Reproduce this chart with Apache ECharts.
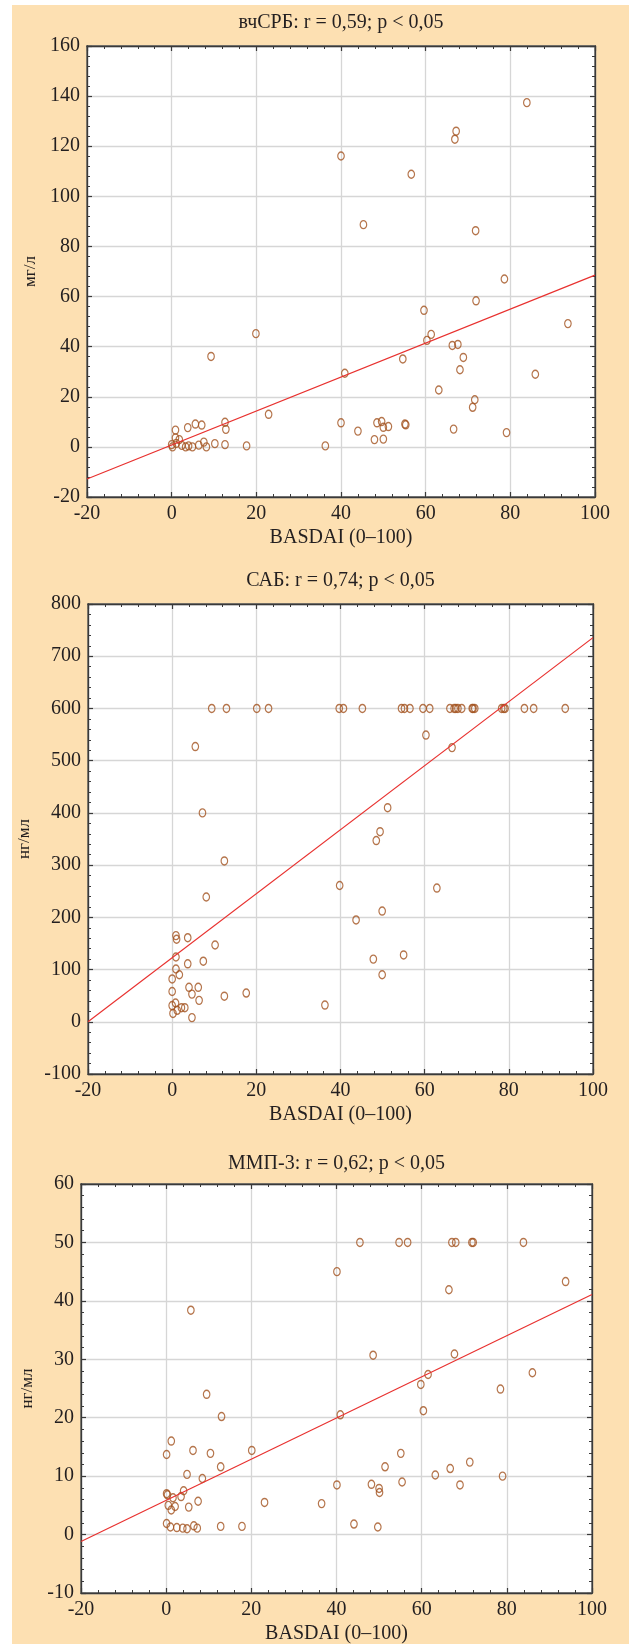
<!DOCTYPE html>
<html>
<head>
<meta charset="utf-8">
<script src="https://cdn.jsdelivr.net/npm/echarts@6/dist/echarts.min.js"></script>
<style>
html,body{margin:0;padding:0;background:#fff;}
#c{width:629px;height:1644px;}
</style>
</head>
<body>
<div id="c"></div>
<script>
// ---- DATA ----
const xAxisName = 'BASDAI (0–100)';
const titles = ['вчСРБ: r = 0,59; p < 0,05', 'САБ: r = 0,74; p < 0,05', 'ММП-3: r = 0,62; p < 0,05'];
const yNames = ['мг/л', 'нг/мл', 'нг/мл'];
const xRange = [-20, 100, 20];
const yRanges = [[-20, 160, 20], [-100, 800, 100], [-10, 60, 10]];
// regression lines: [intercept, slope]
const fits = [[0.77, 0.678], [122.6, 6.13], [5.85, 0.3525]];

const crpX = [83.9, 67.2, 66.9, 40.0, 56.6, 45.3, 71.8, 78.6, 71.9, 59.6, 93.6, 19.9, 61.3, 60.3, 66.3, 67.6, 9.3, 68.9, 54.6, 68.1, 40.9, 85.9, 63.1, 71.6, 71.1, 22.9, 40.0, 48.5, 49.6, 50.0, 51.2, 55.1, 55.3, 44.0, 47.9, 50.0, 66.6, 79.1, 36.3, 17.7, 12.6, 12.6, 12.8, 10.2, 7.1, 5.6, 3.8, 0.9, 1.8, 0.9, 0.0, 0.2, 2.4, 3.3, 4.0, 4.9, 6.4, 7.6, 8.2, 1.1];
const crpY = [137.4, 126.0, 122.8, 116.1, 108.8, 88.7, 86.3, 67.0, 58.3, 54.5, 49.2, 45.2, 44.9, 42.5, 40.5, 40.9, 36.1, 35.7, 35.1, 30.8, 29.4, 29.0, 22.7, 18.8, 15.8, 13.0, 9.6, 9.6, 10.1, 7.8, 8.1, 9.1, 8.8, 6.3, 2.9, 3.1, 7.1, 5.7, 0.4, 0.4, 0.9, 9.8, 7.0, 1.3, 8.7, 9.1, 7.7, 6.7, 2.9, 3.6, 0.9, 0.0, 0.6, 0.0, 0.4, 0.0, 0.7, 1.9, 0.0, 1.4];

const saaX = [9.4, 12.9, 20.1, 22.9, 39.7, 40.7, 45.2, 54.5, 55.2, 56.5, 59.6, 61.2, 66.0, 67.0, 67.4, 67.9, 68.8, 71.3, 71.5, 71.9, 78.3, 78.8, 79.1, 83.7, 85.9, 93.4,
  60.3, 66.5, 5.5, 7.2, 51.2, 49.4, 48.5, 12.4, 39.8, 62.9, 8.1, 49.9, 43.7, 10.2, 0.9, 1.05, 3.7, 55.0, 47.8, 0.9, 7.4, 3.7, 0.9, 1.7, 49.9, 0.0, 0.0, 4.0, 6.2, 4.7, 6.4, 12.4, 17.6, 36.3, 0.8, 0.0, 0.2, 2.2, 3.0, 1.2, 4.7];
const saaY = [600, 600, 600, 600, 600, 600, 600, 600, 600, 600, 600, 600, 600, 600, 600, 600, 600, 600, 600, 600, 600, 600, 600, 600, 600, 600,
  549, 525, 527, 400, 410, 364, 347, 308, 261, 256, 239, 212, 195, 147, 165, 158, 161, 128, 120, 124, 116, 111, 101, 90, 90, 82, 58, 66, 66, 53, 41, 49, 55, 32, 36, 31, 16, 27, 27, 22, 8];

const mmpX = [45.5, 54.7, 56.7, 67.1, 68.0, 71.8, 72.1, 83.9, 40.1, 93.8, 66.4, 5.8, 48.6, 67.7, 61.5, 86.0, 59.8, 78.5, 9.5, 60.4, 40.9, 13.0, 1.2, 0.1, 6.3, 10.4, 20.1, 55.1, 12.8, 51.4, 71.3, 66.7, 4.9, 63.2, 79.0, 8.5, 55.4, 40.1, 48.2, 69.0, 50.0, 50.1, 0.1, 0.3, 4.1, 3.5, 1.6, 7.5, 23.1, 36.5, 0.5, 2.1, 5.3, 1.2, 0.1, 1.0, 2.5, 3.9, 4.9, 6.5, 7.3, 12.8, 17.8, 44.1, 49.7];
const mmpY = [50, 50, 50, 50, 50, 50, 50, 50, 45.0, 43.3, 41.9, 38.4, 30.7, 30.9, 27.4, 27.7, 25.7, 24.9, 24.0, 21.2, 20.5, 20.2, 16.0, 13.7, 14.4, 13.9, 14.4, 13.9, 11.6, 11.6, 12.4, 11.3, 10.3, 10.2, 10.0, 9.6, 9.0, 8.5, 8.6, 8.5, 7.9, 7.2, 7.0, 6.8, 7.5, 6.5, 6.3, 5.7, 5.5, 5.3, 5.0, 4.8, 4.7, 4.2, 1.9, 1.3, 1.2, 1.1, 1.0, 1.5, 1.1, 1.4, 1.4, 1.8, 1.3];

const seriesX = [crpX, saaX, mmpX];
const seriesY = [crpY, saaY, mmpY];

// ---- LAYOUT ----
const grids = [
  {left: 87, top: 46, width: 508, height: 451},
  {left: 88, top: 604, width: 505, height: 470},
  {left: 81, top: 1184, width: 511, height: 409}
];
const titleY = [23, 581, 1164];
const yNameGap = [44, 45, 38];
const FONT = '"Liberation Serif", "DejaVu Serif", serif';
const TXT = '#231f20';
const AXC = '#3a3a3a';

const chart = echarts.init(document.getElementById('c'), null, {renderer: 'canvas'});
const option = {
  animation: false,
  backgroundColor: '#ffffff',
  grid: [], xAxis: [], yAxis: [], series: [],
  graphic: [{type: 'rect', shape: {x: 12, y: 5, width: 617, height: 1639}, style: {fill: '#fde0b2'}, z: -10}]
};

function tickCfg() {
  return {
    axisLine: {show: true, onZero: false, lineStyle: {color: AXC, width: 1.3}},
    axisTick: {show: true, inside: true, length: 5, lineStyle: {color: AXC, width: 1.2}},
    minorTick: {show: true, splitNumber: 5, length: 3, lineStyle: {color: AXC, width: 1}}
  };
}

grids.forEach((g, i) => {
  option.grid.push(Object.assign({containLabel: false, outerBoundsMode: 'none', show: true, backgroundColor: '#ffffff', borderColor: AXC, borderWidth: 1.3}, g));
  const base = Object.assign({type: 'value', gridIndex: i, min: xRange[0], max: xRange[1], interval: xRange[2]}, tickCfg());
  option.xAxis.push(Object.assign({}, base, {
    position: 'bottom',
    name: xAxisName, nameLocation: 'middle', nameGap: 31,
    nameTextStyle: {fontFamily: FONT, fontSize: 20, color: TXT},
    axisLabel: {fontFamily: FONT, fontSize: 20, color: TXT, margin: 7},
    splitLine: {show: true, lineStyle: {color: '#d6d6d6', width: 1.3}}
  }));
  option.xAxis.push(Object.assign({}, base, {
    position: 'top', axisLabel: {show: false}, splitLine: {show: false}
  }));
  const yr = yRanges[i];
  const ybase = Object.assign({type: 'value', gridIndex: i, min: yr[0], max: yr[1], interval: yr[2]}, tickCfg());
  option.yAxis.push(Object.assign({}, ybase, {
    position: 'left',
    name: yNames[i], nameLocation: 'middle', nameGap: yNameGap[i], nameRotate: 90,
    nameTextStyle: {fontFamily: FONT, fontSize: 17, color: TXT},
    axisLabel: {fontFamily: FONT, fontSize: 20, color: TXT, margin: 7},
    splitLine: {show: true, lineStyle: {color: '#d6d6d6', width: 1.3}}
  }));
  option.yAxis.push(Object.assign({}, ybase, {
    position: 'right', axisLabel: {show: false}, splitLine: {show: false}
  }));
  const xs = seriesX[i], ys = seriesY[i];
  option.series.push({
    type: 'scatter', xAxisIndex: 2 * i, yAxisIndex: 2 * i,
    data: xs.map((x, k) => [x, ys[k]]),
    symbol: 'circle', symbolSize: [6.5, 8],
    itemStyle: {color: 'rgba(0,0,0,0)', borderColor: '#a3521f', borderWidth: 1.3},
    z: 3
  });
  const f = fits[i];
  option.series.push({
    type: 'line', xAxisIndex: 2 * i, yAxisIndex: 2 * i,
    data: [xRange[0], xRange[1]].map(x => [x, f[0] + f[1] * x]),
    symbol: 'none', clip: true,
    lineStyle: {color: '#e8312f', width: 1.2}, z: 4
  });
  option.graphic.push({
    type: 'text', x: g.left + g.width / 2, y: titleY[i],
    style: {text: titles[i], font: '20px ' + FONT, fill: TXT, align: 'center', verticalAlign: 'middle'}
  });
});

chart.setOption(option);
</script>
</body>
</html>
